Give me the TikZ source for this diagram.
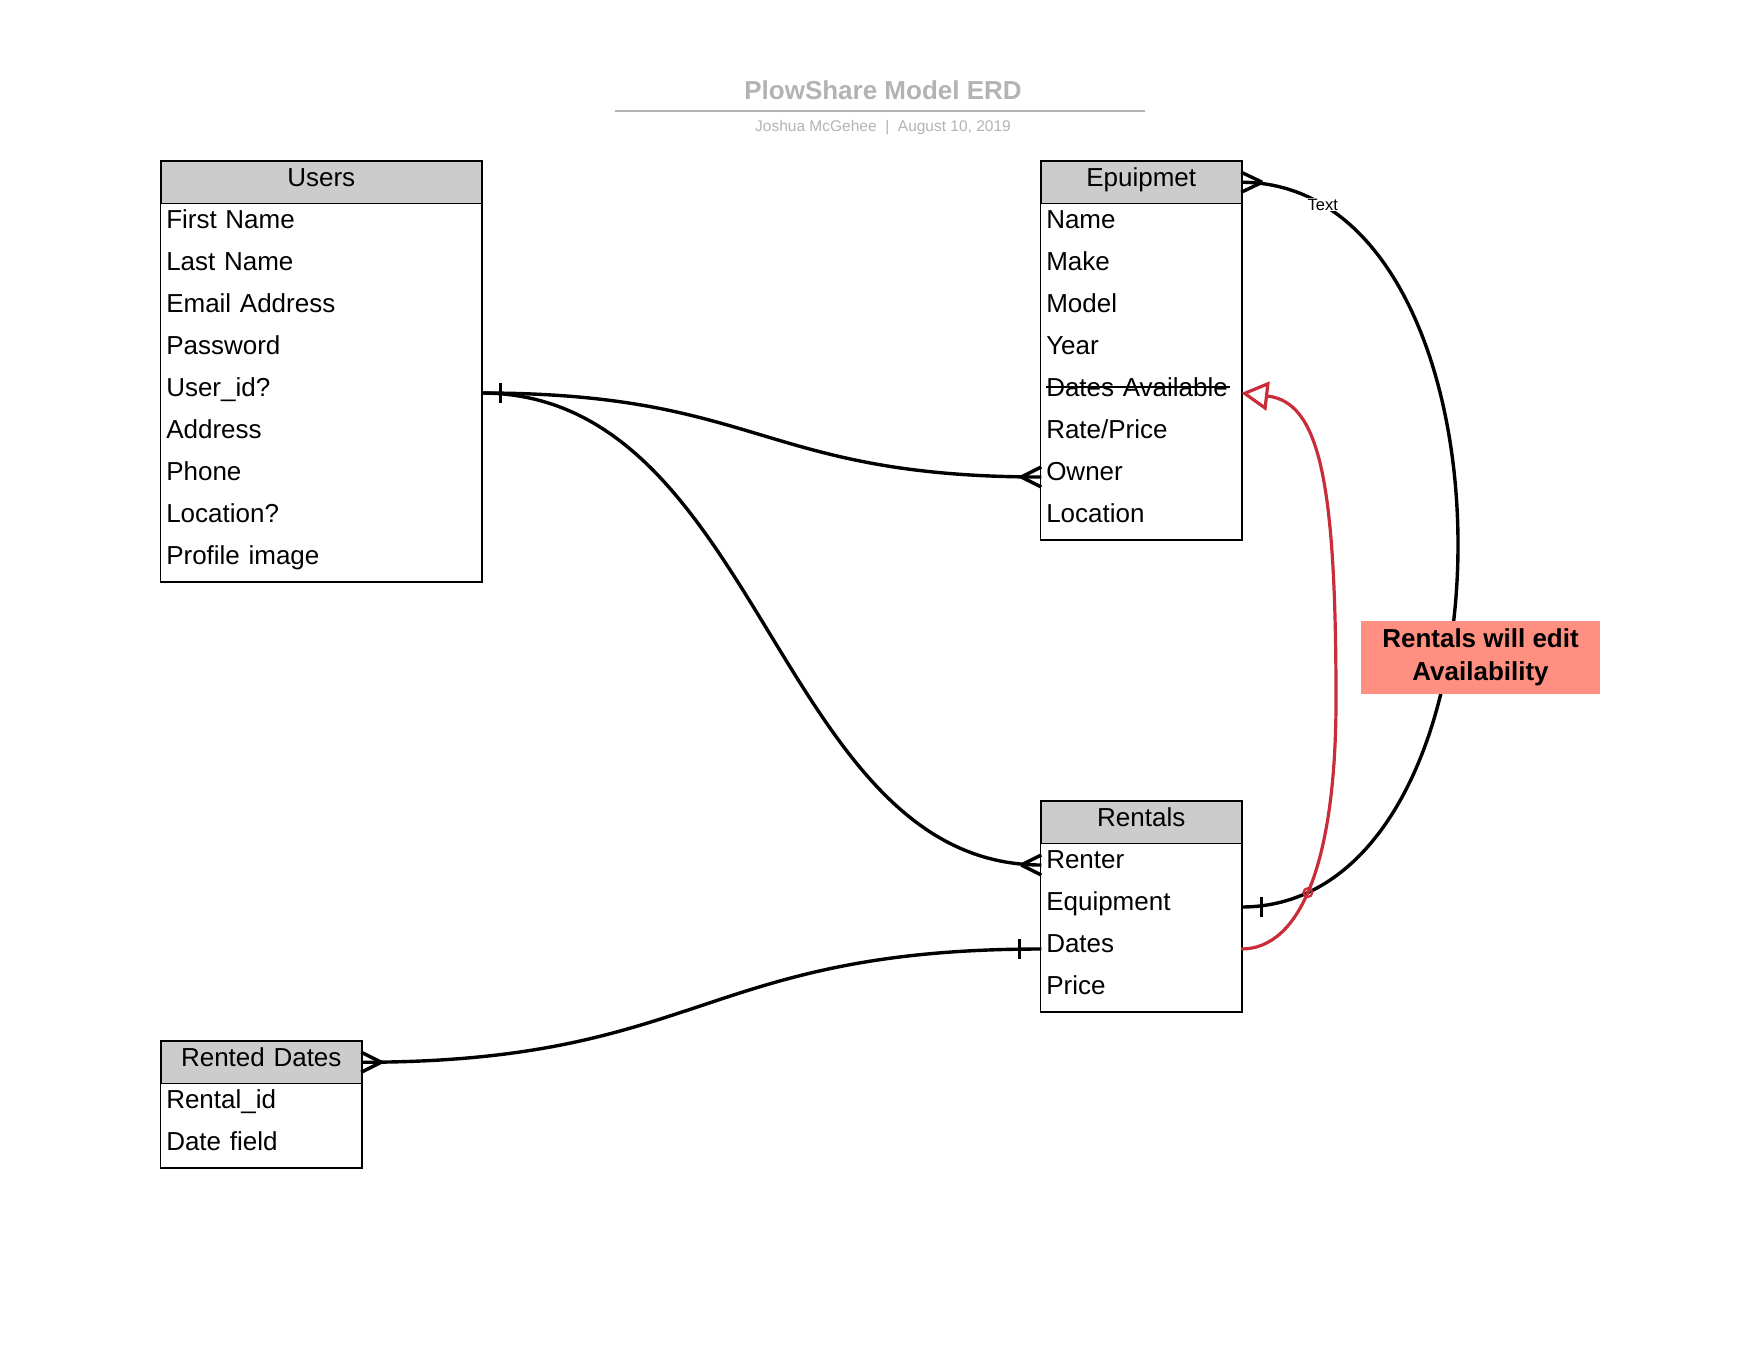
\documentclass[tikz,border=0pt]{standalone}
\usepackage{fontspec}
\setmainfont{Liberation Sans}
\usepackage{tikz}
\usetikzlibrary{arrows.meta,calc,intersections}
\definecolor{hdgray}{HTML}{CCCCCC}
\definecolor{titlegray}{HTML}{B3B3B3}
\definecolor{notered}{HTML}{FF8F80}
\definecolor{linkred}{HTML}{C92D39}
\newcommand{\erdfont}{\fontsize{13pt}{15.6pt}\selectfont}
\newsavebox{\strikebox}
\newcommand{\strike}[1]{\sbox{\strikebox}{#1}\rlap{\rule[0.3em]{\dimexpr\wd\strikebox+1pt\relax}{0.9pt}}\usebox{\strikebox}}
\newcommand{\crowsfoot}[2]{\draw[conn] ($(#1)+(#2,0)$) -- ($(#1)+(0,-10)$) ($(#1)+(#2,0)$) -- ($(#1)+(0,10)$);}
\newcommand{\onebar}[2]{\draw[conn] ($(#1)+(#2,-10)$) -- ($(#1)+(#2,10)$);}

\begin{document}
\begin{tikzpicture}[x=0.5pt, y=-0.5pt, font=\erdfont]
        \tikzstyle{tbl} = [draw, line width=0.75pt, inner sep=0pt, outer sep=0pt, row sep=0pt, anchor=north west]
        \tikzstyle{hd} = [draw, line width=0.75pt, fill=hdgray, minimum height=21pt, inner sep=0pt, outer sep=0pt, align=center, text height=8.8pt, text depth=5pt]
        \tikzstyle{fld} = [minimum height=21pt, inner xsep=2.5pt, inner ysep=0pt, outer sep=0pt, align=left, text height=8.5pt, text depth=5.5pt]
        \tikzstyle{conn} = [line width=1.7pt]
        \tikzstyle{reqline} = [line width=1.6pt, linkred]
        \useasboundingbox (0,0) rectangle (1760,1360);
        % title block
        \node (title) [text=titlegray, font=\bfseries\fontsize{13pt}{15pt}\selectfont] at (883,90) {PlowShare Model ERD};
        \node (byline) [text=titlegray, font=\fontsize{7.75pt}{9pt}\selectfont] at (883,128) {Joshua McGehee\ \ |\ \ August 10, 2019};
        \draw[titlegray, line width=1pt] (615,111) -- (1145,111);
        % tables
        \matrix (users) [tbl, nodes={fld, text width=155pt}] at (160.5,160.5) {
            \node (usershd) [hd, minimum width=160pt] {Users}; \\
            \node (ufirst) {First Name}; \\
            \node (ulast) {Last Name}; \\
            \node (uemail) {Email Address}; \\
            \node (upass) {Password}; \\
            \node (uid) {User\_id?}; \\
            \node (uaddr) {Address}; \\
            \node (uphone) {Phone}; \\
            \node (uloc) {Location?}; \\
            \node (uimage) {Profile image}; \\
        };
        \matrix (equip) [tbl, nodes={fld, text width=95pt}] at (1040.5,160.5) {
            \node (equiphd) [hd, minimum width=100pt] {Epuipmet}; \\
            \node (ename) {Name}; \\
            \node (emake) {Make}; \\
            \node (emodel) {Model}; \\
            \node (eyear) {Year}; \\
            \node (edates) {\strike{Dates Available}}; \\
            \node (erate) {Rate/Price}; \\
            \node (eowner) {Owner}; \\
            \node (eloc) {Location}; \\
        };
        \matrix (rentals) [tbl, nodes={fld, text width=95pt}] at (1040.5,800.5) {
            \node (rentalshd) [hd, minimum width=100pt] {Rentals}; \\
            \node (rrenter) {Renter}; \\
            \node (requip) {Equipment}; \\
            \node (rdates) {Dates}; \\
            \node (rprice) {Price}; \\
        };
        \matrix (rented) [tbl, nodes={fld, text width=95pt}] at (160.5,1040.5) {
            \node (rdhd) [hd, minimum width=100pt] {Rented Dates}; \\
            \node (rdrental) {Rental\_id}; \\
            \node (rdfield) {Date field}; \\
        };
        % relations
        \draw[conn] (uid.east) .. controls +(280,0) and +(-280,0) .. (eowner.west);
        \draw[conn] (uid.east) .. controls +(280,0) and +(-265,0) .. (rrenter.west);
        \draw[conn, name path=eqlink] (equiphd.east) .. controls +(289,0) and +(289,0) .. node[pos=0.105, fill=white, inner sep=0.5pt, font=\fontsize{8.25pt}{10pt}\selectfont] (textlbl) {Text} (requip.east);
        \draw[conn] (rdhd.east) .. controls +(340,0) and +(-340,0) .. (rdates.west);
        \draw[reqline, name path=datelink, -{Triangle[open, length=13.5pt, width=14.5pt]}] (rdates.east) .. controls +(60,0) and +(0,160) .. (1336,700) .. controls +(0,-220) and +(78,9) .. (edates.east);
        \path[name intersections={of=eqlink and datelink, by=hop}];
        \draw[reqline, line width=1.1pt] (hop) circle[radius=2.2pt];
        \onebar{uid.east}{19}
        \crowsfoot{eowner.west}{-20}
        \crowsfoot{rrenter.west}{-20}
        \crowsfoot{equiphd.east}{21}
        \onebar{requip.east}{20}
        \crowsfoot{rdhd.east}{20}
        \onebar{rdates.west}{-22}
        % note
        \node (note) [fill=notered, minimum width=119.5pt, minimum height=36.5pt, align=center, font=\bfseries\fontsize{13pt}{16.5pt}\selectfont] at (1480.5,657.5) {Rentals will edit\\Availability};
\end{tikzpicture}
\end{document}
